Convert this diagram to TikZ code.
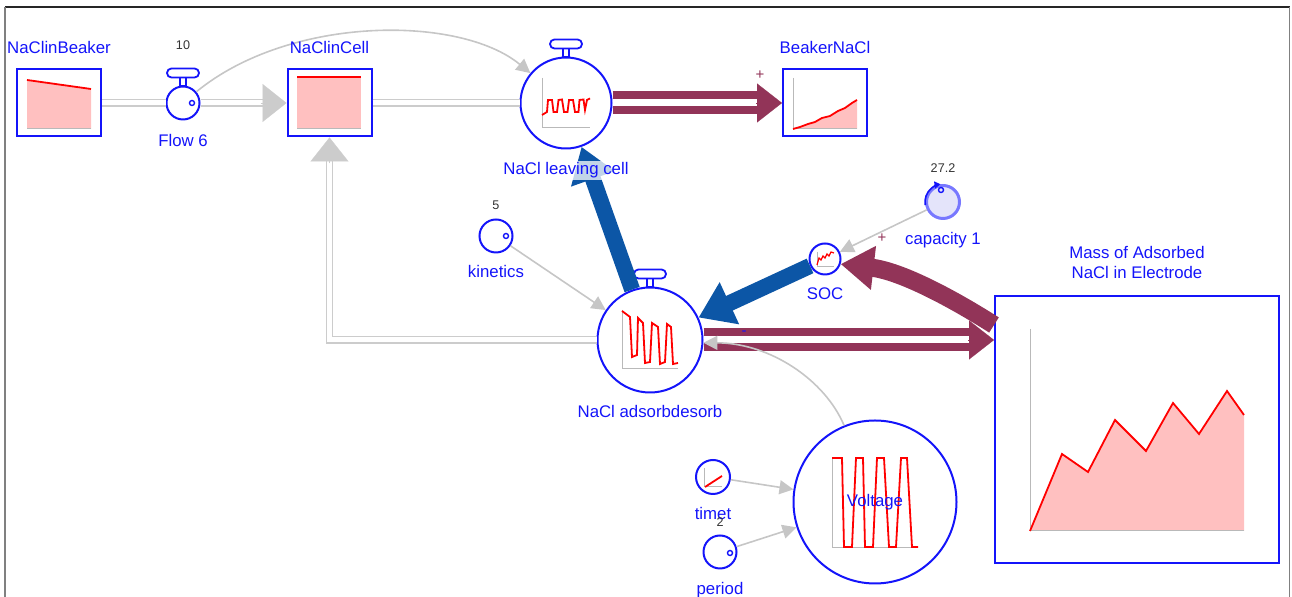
\documentclass[tikz,border=0pt]{standalone}
\usepackage{fontspec}
\setmainfont{Liberation Sans}
\usepackage{tikz}
\usetikzlibrary{arrows.meta, positioning}
\definecolor{vblue}{RGB}{20,20,250}
\definecolor{maroonflow}{RGB}{146,52,88}
\definecolor{flowblue}{RGB}{12,86,166}
\definecolor{chartpink}{RGB}{255,192,192}
\definecolor{capfill}{RGB}{228,228,250}
\definecolor{capline}{RGB}{120,120,255}
\tikzset{
    stock/.style={rectangle, draw=vblue, line width=1pt, fill=white, minimum width=42pt, minimum height=33.5pt, inner sep=0pt},
    valve/.style={circle, draw=vblue, line width=1pt, fill=white, inner sep=0pt},
    aux/.style={circle, draw=vblue, line width=1pt, fill=white, minimum size=16.5pt, inner sep=0pt},
    knob/.style={draw=vblue, line width=0.9pt, fill=white},
    lbltext/.style={text=vblue, font=\fontsize{8.4}{10}\selectfont, inner sep=1pt},
    lbl/.style={lbltext, text height=6pt, text depth=1.5pt},
    val/.style={text=black!80, font=\fontsize{6.3}{7}\selectfont, inner sep=1pt},
    sign/.style={text=maroonflow, font=\fontsize{7.5}{8}\selectfont, inner sep=0pt},
    pipe/.style={draw=gray!40, line width=0.65pt, double=white, double distance=2.5pt},
    pipetip/.style={draw=gray!40, line width=0.1pt, -{Triangle[length=12pt,width=19pt]}},
    link/.style={draw=gray!45, line width=0.8pt, -{Triangle[length=7pt,width=7pt]}},
    mflow/.style={draw=maroonflow, line width=4pt, double=white, double distance=3.5pt},
    mtip/.style={draw=maroonflow, line width=0.1pt, -{Triangle[length=12.5pt,width=19.5pt]}},
    barrow/.style={draw=flowblue, line width=8pt, -{Triangle[length=17pt,width=22pt]}},
    marrow/.style={draw=maroonflow, line width=9pt, -{Triangle[length=16.5pt,width=21pt]}},
    chartaxis/.style={draw=gray!55, line width=0.5pt},
    chartline/.style={draw=red, line width=0.9pt}
}

\begin{document}
\begin{tikzpicture}[x=0.5pt, y=-0.5pt]
    \useasboundingbox (0,0) rectangle (1292,597);
    % frame of the canvas
    \draw[black!85, line width=1pt] (5,7.5) -- (1289.5,7.5);
    \draw[gray, line width=0.8pt] (5,7.5) -- (5,597) (1289.5,7.5) -- (1289.5,597);

    % stocks
    \node (beaker) [stock] at (59,103) {};
    \node (cell) [stock] at (329.5,103) {};
    \node (bnacl) [stock] at (825,103) {};
    \node (mass) [stock, minimum width=142pt, minimum height=133.5pt] at (1137,429.5) {};

    % flows
    \node (flow6) [valve, minimum size=16.5pt] at (183,103) {};
    \node (leave) [valve, minimum size=45.5pt] at (566,103) {};
    \node (adsorb) [valve, minimum size=52.5pt] at (650,340) {};

    % converters
    \node (kinetics) [aux] at (496,236) {};
    \node (soc) [aux, minimum size=15.5pt] at (825,259) {};
    \node (capacity) [aux, draw=capline, fill=capfill, line width=1.5pt] at (943,202) {};
    \node (timet) [aux, minimum size=17pt] at (713,477) {};
    \node (period) [aux] at (720,552) {};
    \node (voltage) [aux, minimum size=81.5pt] at (875,502) {};

    % valve handles
    \foreach \v in {flow6, leave, adsorb} {
        \draw[knob] ([shift={(-3,0)}]\v.north) rectangle ([shift={(3,-8)}]\v.north);
        \draw[knob, rounded corners=2.2pt] ([shift={(-16,-8)}]\v.north) rectangle ([shift={(16,-17)}]\v.north);
    }

    % constant dials
    \draw[knob, line width=0.7pt] (192,103) circle[radius=2.5];
    \draw[knob, line width=0.7pt] (506,236) circle[radius=2.5];
    \draw[knob, line width=0.7pt] (730,553) circle[radius=2.5];
    \draw[knob, line width=0.7pt, fill=capfill] (941,190) circle[radius=2.5];
    \draw[vblue, line width=0.8pt, -{Triangle[length=3pt,width=3.5pt]}] (capacity.190) arc[start angle=170, end angle=262, radius=18];

    % mini graphs
    \fill[chartpink] (27,80) -- (91,89) -- (91,129) -- (27,129) -- cycle;
    \draw[chartaxis] (27,129) -- (91,129);
    \draw[chartline] (27,80) -- (91,89);

    \fill[chartpink] (297,77) rectangle (361,129);
    \draw[chartaxis] (297,129) -- (361,129);
    \draw[chartline] (297,77) -- (361,77);

    \fill[chartpink] (793,129) -- (800,127) -- (808,124) -- (815,122) -- (822,118) -- (830,116) -- (838,111) -- (845,108) -- (852,103) -- (857,100) -- (857,129) -- cycle;
    \draw[chartaxis] (793,78) -- (793,129) -- (857,129);
    \draw[chartline] (793,129) -- (800,127) -- (808,124) -- (815,122) -- (822,118) -- (830,116) -- (838,111) -- (845,108) -- (852,103) -- (857,100);

    \draw[chartaxis] (542,78) -- (542,128) -- (590,128);
    \draw[chartline] (542,115) -- (547,112) -- (548,100) -- (552,100) -- (553.5,112) -- (557,112) -- (558.5,100) -- (562,99.5) -- (564,112) -- (567.5,112) -- (569,100) -- (573,100) -- (575,112) -- (578.5,112) -- (579.5,100) -- (583.5,99.5) -- (585,110) -- (587,100) -- (590,98.5);

    \draw[chartaxis] (622,310) -- (622,369) -- (678,369);
    \draw[chartline] (622,311) -- (630,317) -- (632,357) -- (637,355) -- (638,318) -- (643,323) -- (645,363) -- (650,362) -- (652,323) -- (658,327) -- (660,364) -- (665,362) -- (667,324) -- (671,327) -- (673,364) -- (678,363);

    \draw[chartaxis] (817,252) -- (817,267) -- (834,267);
    \draw[chartline, line width=0.6pt] (817,265) -- (819,258) -- (821,260) -- (823,256) -- (825,258) -- (827,254) -- (829,256) -- (831,252) -- (834,253);

    \draw[chartaxis] (704,468) -- (704,487) -- (722,487);
    \draw[chartline] (705,487) -- (722,476);

    \draw[chartaxis] (832,458) -- (832,548) -- (918,548);
    \draw[chartline] (832,458) -- (842,458) -- (844,547) -- (852,547) -- (856,458) -- (863,458) -- (865,547) -- (873,547) -- (877,458) -- (884,458) -- (889,547) -- (896,547) -- (901,458) -- (907,458) -- (912,547) -- (918,547);

    \fill[chartpink] (1030,531) -- (1062,454) -- (1088,472) -- (1115,420) -- (1146,451) -- (1173,403) -- (1199,434) -- (1227,391) -- (1244,415) -- (1244,531) -- cycle;
    \draw[chartaxis] (1030,329) -- (1030,531) -- (1244,531);
    \draw[chartline] (1030,531) -- (1062,454) -- (1088,472) -- (1115,420) -- (1146,451) -- (1173,403) -- (1199,434) -- (1227,391) -- (1244,415);

    % material pipes
    \draw[pipe] (beaker) -- (flow6);
    \draw[pipe, shorten >=11.5pt] (flow6) -- (cell);
    \draw[pipetip] ([xshift=-13pt]cell.west) -- (cell.west);
    \draw[pipe] (cell) -- (leave);
    \draw[pipe, shorten >=11.5pt] (adsorb) -| (cell);
    \draw[pipetip] ([yshift=-13pt]cell.south) -- (cell.south);

    % outflows
    \coordinate (mend) at (adsorb.east -| mass.west);
    \coordinate (mjoin) at ([yshift=-15pt]mass.north west);
    \draw[mflow, shorten >=12pt] (leave) -- (bnacl);
    \draw[mtip] ([xshift=-13pt]bnacl.west) -- (bnacl.west);
    \draw[mflow, shorten >=12pt] (adsorb.east) -- (mend);
    \draw[mtip] ([xshift=-13pt]mend) -- (mend);
    \draw[marrow] (mjoin) .. controls (950,297) and (900,271) .. (soc.-18);

    % feedback arrows
    \draw[barrow] (adsorb) -- (leave);
    \draw[barrow] (soc) -- (adsorb);

    % information links
    \draw[link] (flow6.40) .. controls (290,15) and (460,15) .. (leave.140);
    \draw[link] (kinetics) -- (adsorb);
    \draw[link] (capacity) -- (soc);
    \draw[link] (timet) -- (voltage);
    \draw[link] (period) -- (voltage);
    \draw[link] (voltage.112) .. controls (825,380) and (770,343) .. (adsorb.-3);

    % names and values
    \node (beakerlbl) [lbl, above=5pt of beaker] {NaClinBeaker};
    \node (celllbl) [lbl, above=5pt of cell] {NaClinCell};
    \node (bnacllbl) [lbl, above=5pt of bnacl] {BeakerNaCl};
    \node (masslbl) [lbltext, align=center, above=7pt of mass] {Mass of Adsorbed\\NaCl in Electrode};
    \node (flow6lbl) [lbl, below=6pt of flow6] {Flow 6};
    \node (flow6val) [val, above=16.5pt of flow6] {10};
    \node (leavelbl) [lbl, below=5.5pt of leave, fill=white, fill opacity=0.75, text opacity=1] {NaCl leaving cell};
    \node (adsorblbl) [lbl, below=5pt of adsorb] {NaCl adsorbdesorb};
    \node (kinlbl) [lbl, below=5pt of kinetics] {kinetics};
    \node (kinval) [val, above=3pt of kinetics] {5};
    \node (soclbl) [lbl, below=5pt of soc] {SOC};
    \node (caplbl) [lbl, below=5pt of capacity] {capacity 1};
    \node (capval) [val, above=4.5pt of capacity] {27.2};
    \node (timelbl) [lbl, below=5pt of timet] {timet};
    \node (perlbl) [lbl, below=5.5pt of period] {period};
    \node (perval) [val, above=3pt of period] {2};
    \node (voltlbl) [lbltext] at (voltage) {Voltage};

    % polarities
    \node (plusbeaker) [sign] at (760,75) {+};
    \node (pluscap) [sign] at (882,238) {+};
    \node (minusads) [sign, text=vblue] at (744,333) {-};
\end{tikzpicture}
\end{document}
